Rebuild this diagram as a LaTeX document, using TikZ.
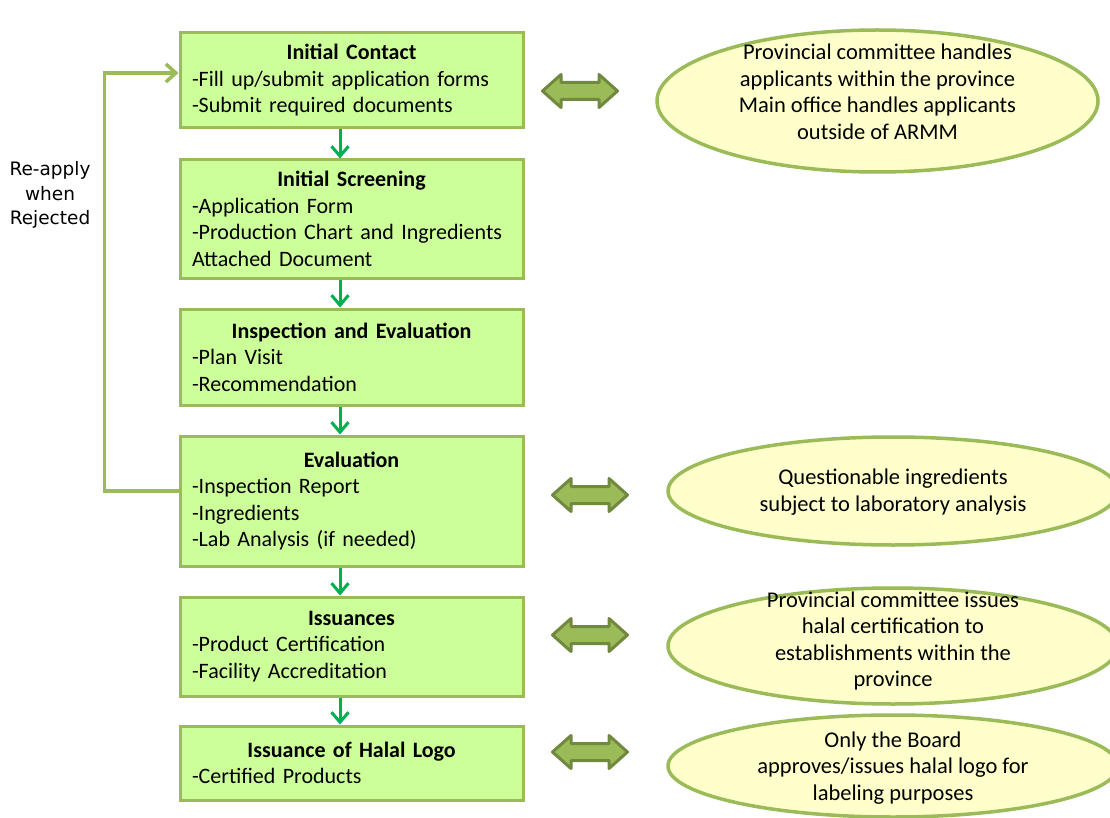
\documentclass[tikz,border=0pt]{standalone}
\usepackage{fontspec}
\setmainfont{Carlito}
\newfontfamily\labelfont{DejaVu Sans}
\usetikzlibrary{arrows.meta,shapes.geometric}

\definecolor{boxfill}{HTML}{CCFF99}
\definecolor{boxline}{HTML}{9BBB59}
\definecolor{ovalfill}{HTML}{FFFFCC}
\definecolor{flowgreen}{HTML}{00B050}
\definecolor{arrfill}{HTML}{9BBB59}
\definecolor{arrline}{HTML}{71893F}

\tikzset{
  stepbox/.style={draw=boxline, fill=boxfill, line width=3pt, rectangle,
    minimum width=343pt, text width=319pt, inner xsep=12pt, inner ysep=0pt,
    align=left, font=\fontsize{22}{26.5}\selectfont},
  oval/.style={draw=boxline, fill=ovalfill, line width=3.5pt, ellipse, inner sep=0pt},
  ovaltext/.style={align=center, inner sep=0pt, font=\fontsize{22.5}{26.5}\selectfont},
  flow/.style={draw=flowgreen, line width=3pt,
    -{Straight Barb[length=10pt,width=17pt,line width=3pt]}},
  loopback/.style={draw=boxline, line width=3.5pt,
    -{Straight Barb[length=10pt,width=18pt,line width=3.5pt]}},
  dblarrow/.pic={
    \path[fill=arrfill, draw=arrline, line width=3pt, line join=round]
      (-37.5,0) -- (-19,-16.5) -- (-19,-8.5) -- (19,-8.5) -- (19,-16.5)
      -- (37.5,0) -- (19,16.5) -- (19,8.5) -- (-19,8.5) -- (-19,16.5) -- cycle;
  }
}
\newcommand{\boxtitle}[1]{\makebox[319pt]{\bfseries #1}}

\begin{document}
\begin{tikzpicture}[x=1pt,y=-1pt]
\useasboundingbox[fill=white] (0,0) rectangle (1110,818);

% process steps
\node[stepbox, minimum height=95pt] (b1) at (351.5,80.5)
  {\boxtitle{Initial Contact}\\-Fill up/submit application forms\\-Submit required documents};
\node[stepbox, minimum height=118pt] (b2) at (351.5,219)
  {\boxtitle{Initial Screening}\\-Application Form\\-Production Chart and Ingredients\\Attached Document};
\node[stepbox, minimum height=96pt] (b3) at (351.5,357)
  {\boxtitle{Inspection and Evaluation}\\-Plan Visit\\-Recommendation};
\node[stepbox, minimum height=130pt] (b4) at (351.5,501)
  {\boxtitle{Evaluation}\\-Inspection Report\\-Ingredients\\-Lab Analysis (if needed)};
\node[stepbox, minimum height=99pt] (b5) at (351.5,646.5)
  {\boxtitle{Issuances}\\-Product Certification\\-Facility Accreditation};
\node[stepbox, minimum height=74pt] (b6) at (351.5,763)
  {\boxtitle{Issuance of Halal Logo}\\-Certified Products};

% downward flow
\draw[flow] ([xshift=-11.5pt]b1.south) -- ([xshift=-11.5pt]b2.north);
\draw[flow] ([xshift=-11.5pt]b2.south) -- ([xshift=-11.5pt]b3.north);
\draw[flow] ([xshift=-11.5pt]b3.south) -- ([xshift=-11.5pt]b4.north);
\draw[flow] ([xshift=-11.5pt]b4.south) -- ([xshift=-11.5pt]b5.north);
\draw[flow] ([xshift=-11.5pt]b5.south) -- ([xshift=-11.5pt]b6.north);

% re-apply loop
\draw[loopback] ([yshift=10pt]b4.west) -- ++(-74,0) |- ([yshift=7.5pt]b1.west);
\node[align=center, inner sep=0pt, font=\labelfont\fontsize{18.5}{24.5}\selectfont]
  (reapply) at (50,195) {Re-apply\\when\\Rejected};

% notes
\node[oval, minimum width=441pt, minimum height=142pt] (e1) at (877.5,101) {};
\node[ovaltext] (t1) at (877.5,92)
  {Provincial committee handles\\applicants within the province\\Main office handles applicants\\outside of ARMM};
\node[oval, minimum width=450pt, minimum height=108pt] (e2) at (893,491) {};
\node[ovaltext] (t2) at (893,492)
  {Questionable ingredients\\subject to laboratory analysis};
\node[oval, minimum width=450pt, minimum height=116pt] (e3) at (893,646) {};
\node[ovaltext] (t3) at (893,641)
  {Provincial committee issues\\halal certification to\\establishments within the\\province};
\node[oval, minimum width=450pt, minimum height=102pt] (e4) at (893,766) {};
\node[ovaltext] (t4) at (893,768)
  {Only the Board\\approves/issues halal logo for\\labeling purposes};

% two-way links
\pic at (580,91) {dblarrow};
\pic at (590,495) {dblarrow};
\pic at (590,635) {dblarrow};
\pic at (590,752) {dblarrow};
\end{tikzpicture}
\end{document}
